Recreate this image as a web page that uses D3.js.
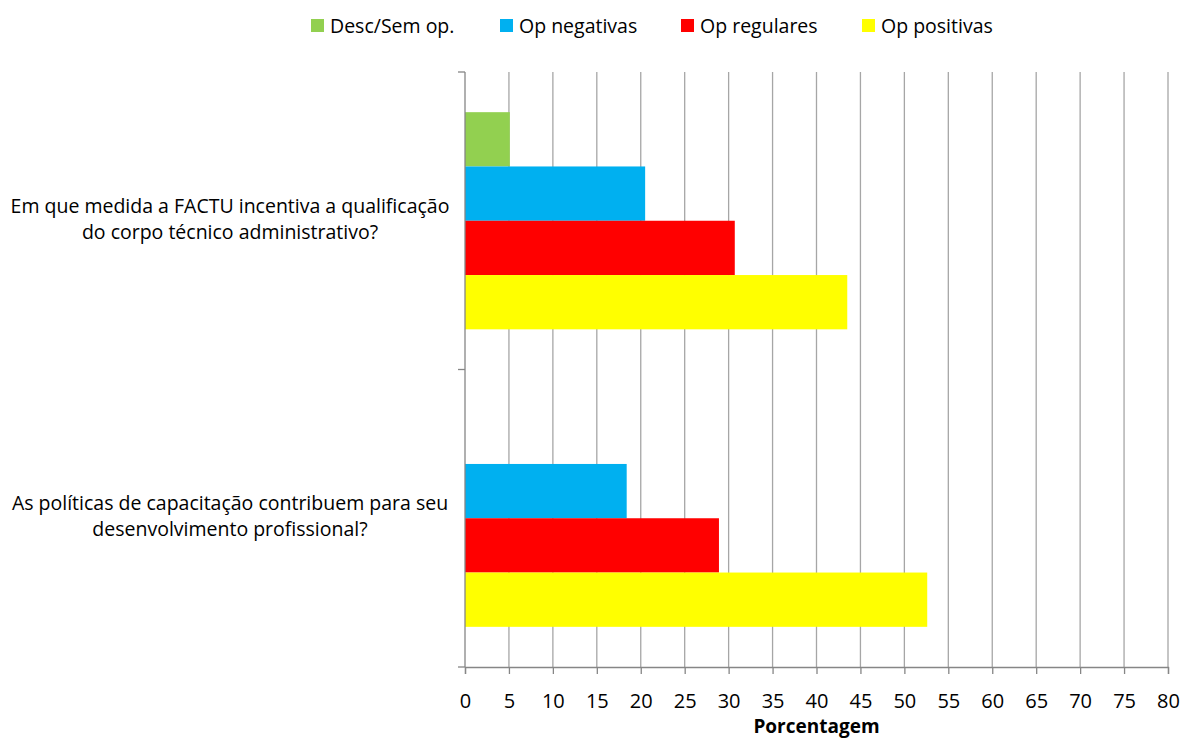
<!DOCTYPE html>
<html><head><meta charset="utf-8">
<script src="https://cdn.jsdelivr.net/npm/d3@7"></script>
<style>
html,body{margin:0;padding:0;background:#fff;}
svg text{font-family:"Open Sans","Noto Sans",sans-serif;fill:#000;}
</style></head>
<body><svg id="chart" width="1190" height="740"></svg>
<script>
const categories = [
  ["Em que medida a FACTU incentiva a qualificação", "do corpo técnico administrativo?"],
  ["As políticas de capacitação contribuem para seu", "desenvolvimento profissional?"]
];
const seriesNames = ["Desc/Sem op.", "Op negativas", "Op regulares", "Op positivas"];
const seriesColors = ["#92d050", "#00b0f0", "#ff0000", "#ffff00"];
const descSemOp   = [5.1, null];
const opNegativas = [20.5, 18.4];
const opRegulares = [30.7, 28.9];
const opPositivas = [43.5, 52.6];
const xTicks = [0,5,10,15,20,25,30,35,40,45,50,55,60,65,70,75,80];
const xTitle = "Porcentagem";

const seriesValues = [descSemOp, opNegativas, opRegulares, opPositivas];

(function(){
const svg = d3.select("#chart");
const pLeft = 465, pRight = 1168, pTop = 72, pBottom = 667;

const x = d3.scaleLinear().domain([0, 80]).range([pLeft, pRight]);
const catIdx = categories.map((d,i)=>i);
const y0 = d3.scaleBand().domain(catIdx).range([pTop, pBottom]).padding(0);
const y1 = d3.scaleBand().domain(seriesNames).range([0, y0.bandwidth()]).paddingInner(0).paddingOuter(0.74);

const gridColor = "#a6a6a6";

svg.append("g").selectAll("line").data(xTicks.filter(t=>t>0)).join("line")
  .attr("x1", d=>x(d)).attr("x2", d=>x(d))
  .attr("y1", pTop).attr("y2", pBottom)
  .attr("stroke", gridColor).attr("stroke-width", 1.3);

const groups = svg.append("g").selectAll("g").data(catIdx).join("g")
  .attr("transform", i=>`translate(0,${y0(i)})`);
groups.selectAll("rect")
  .data(i => seriesNames.map((s,k)=>({s, k, v: seriesValues[k][i]})).filter(d=>d.v!=null))
  .join("rect")
  .attr("x", x(0))
  .attr("y", d=>y1(d.s))
  .attr("width", d=>x(d.v)-x(0))
  .attr("height", y1.bandwidth())
  .attr("fill", d=>seriesColors[d.k]);

const xAxis = d3.axisBottom(x).tickValues(xTicks).tickSize(7).tickPadding(20);
const gx = svg.append("g").attr("transform", `translate(0,${pBottom})`).call(xAxis);
gx.select(".domain").attr("stroke", "#868686").attr("stroke-width", 1.3);
gx.selectAll(".tick line").attr("stroke", "#868686").attr("stroke-width", 1.3);
gx.selectAll(".tick text").attr("font-size", 20).attr("font-family", '"Open Sans",sans-serif').attr("fill","#000");

const yTicks = [pTop].concat(catIdx.map(i=>y0(i)+y0.bandwidth()));
svg.append("line").attr("x1", pLeft).attr("x2", pLeft).attr("y1", pTop).attr("y2", pBottom)
  .attr("stroke", "#868686").attr("stroke-width", 1.3);
svg.append("g").selectAll("line").data(yTicks).join("line")
  .attr("x1", pLeft-7).attr("x2", pLeft).attr("y1", d=>d).attr("y2", d=>d)
  .attr("stroke", "#868686").attr("stroke-width", 1.3);

const labelX = 230;
catIdx.forEach(i=>{
  const cy = y0(i) + y0.bandwidth()/2;
  const t = svg.append("text").attr("text-anchor","middle").attr("font-size", 19.5);
  categories[i].forEach((line, j)=>{
    t.append("tspan").attr("x", labelX).attr("y", cy - 8 + j*26).text(line);
  });
});

svg.append("text").attr("x", (pLeft+pRight)/2).attr("y", 733)
  .attr("text-anchor","middle").attr("font-size", 19).attr("font-weight","bold").text(xTitle);

const legendX = [311, 500, 681, 862];
const leg = svg.append("g").selectAll("g").data(seriesNames).join("g")
  .attr("transform", (d,i)=>`translate(${legendX[i]},0)`);
leg.append("rect").attr("x",0).attr("y",19).attr("width",13).attr("height",13)
  .attr("fill",(d,i)=>seriesColors[i]);
leg.append("text").attr("x",19).attr("y",33).attr("font-size",19.5).text(d=>d);
})();
</script></body></html>
